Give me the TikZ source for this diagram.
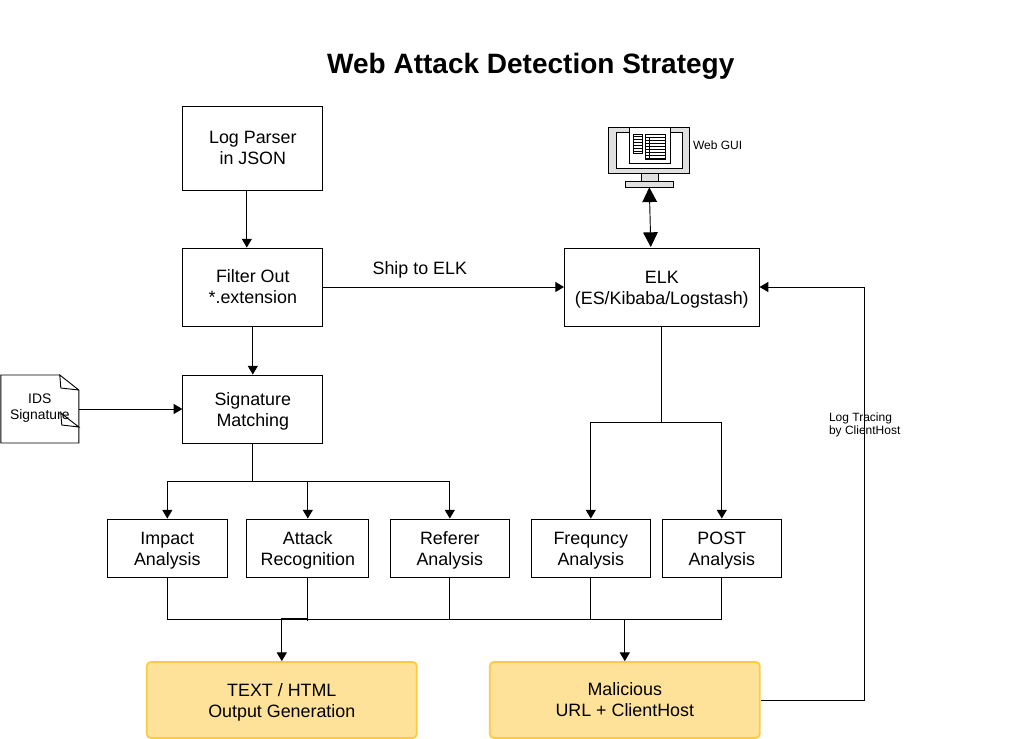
\documentclass[tikz,border=0pt]{standalone}
\usepackage{fontspec}
\setmainfont{Liberation Sans}
\usetikzlibrary{arrows.meta}
\usetikzlibrary{calc}
\definecolor{outfill}{HTML}{FEE299}
\definecolor{outline}{HTML}{FCCB3E}
\newcommand{\lowtext}{\rule{0pt}{13pt}}
\tikzset{
    block/.style={rectangle,draw,line width=0.7pt,align=center,inner sep=0pt,font=\fontsize{13.4}{15.8}\selectfont},
    bigblock/.style={block,minimum width=105pt},
    smallblock/.style={block,minimum width=89pt,minimum height=43.5pt},
    outblock/.style={block,draw=outline,fill=outfill,line width=1.3pt,rounded corners=3pt,minimum width=202.5pt,minimum height=57pt},
    tiny/.style={align=left,inner sep=0pt,font=\fontsize{9}{9.8}\selectfont},
    flow/.style={line width=0.7pt,-{Triangle[length=6.5pt,width=7.5pt]}},
    wire/.style={line width=0.7pt},
    screen/.style={draw,line width=0.6pt}
}
\begin{document}
\begin{tikzpicture}[x=0.75pt,y=-0.75pt]
    \useasboundingbox (0.2,0) rectangle (1025.2,739);
    \draw (531,66) node[font=\fontsize{21}{24}\selectfont\bfseries] (title) {Web Attack Detection Strategy};

    % left column
    \draw (253,148) node[bigblock,minimum height=63pt] (log) {Log Parser\\in JSON};
    \draw (253,287) node[bigblock,minimum height=58.5pt] (filter) {Filter Out\\*.extension};
    \draw (253,409) node[bigblock,minimum height=51pt] (sig) {\lowtext Signature\\Matching};
    \draw (662,287) node[block,minimum width=146pt,minimum height=58.5pt] (elk) {\lowtext ELK\\(ES/Kibaba/Logstash)};

    % analysis row
    \draw (167.5,548) node[smallblock,minimum width=90.5pt] (impact) {\lowtext Impact\\Analysis};
    \draw (308,548) node[smallblock,minimum width=91.5pt] (attack) {\lowtext Attack\\Recognition};
    \draw (450,548) node[smallblock] (referer) {\lowtext Referer\\Analysis};
    \draw (591,548) node[smallblock] (freq) {\lowtext Frequncy\\Analysis};
    \draw (722,548) node[smallblock] (post) {\lowtext POST\\Analysis};

    % output row
    \draw (282,700) node[outblock] (output) {\lowtext TEXT / HTML\\Output Generation};
    \draw (625,700) node[outblock] (malicious) {Malicious\\URL + ClientHost};

    % ids document
    \draw[wire] (60,375) -- (1,375) -- (1,443) -- (79,443) -- (79,390) -- (60,375) -- (61,388) -- (79,390);
    \draw (40,408) node[tiny,align=center,font=\fontsize{10.4}{11.6}\selectfont] (ids) {IDS\\Signature};
    \draw[wire] (61,413) -- (62,425) -- (79,427) -- cycle;
    \coordinate (idsout) at (79,409);

    % web gui monitor
    \draw[screen,fill=black!12] (609,127) rectangle (690,173);
    \draw[screen,fill=white] (617,132) rectangle (683,168);
    \draw[screen,fill=white] (630,127) rectangle (671,163);
    \foreach \row in {136,139,...,151}{
        \draw[line width=0.4pt] (634,\row) -- (643,\row);
    }
    \foreach \row in {137,140,...,158}{
        \draw[line width=0.4pt] (646,\row) -- (666,\row);
    }
    \draw[line width=0.5pt] (634,134) rectangle (643,153);
    \draw[line width=0.5pt] (646,134) rectangle (666,159);
    \draw[line width=0.5pt] (650,137) -- (650,159);
    \draw[screen,fill=black!12] (642,173) rectangle (659,181);
    \draw (649.5,184) node[draw,line width=0.6pt,fill=black!12,inner sep=0pt,minimum width=36.5pt,minimum height=4.5pt] (base) {};
    \draw (693,145) node[tiny,anchor=west] (gui) {Web GUI};
    \draw (420,270) node[font=\fontsize{13.4}{15}\selectfont] (ship) {Ship to ELK};
    \draw (829,425) node[tiny,anchor=west] (tracing) {Log Tracing\\by ClientHost};

    \coordinate (split1) at (253,481);
    \coordinate (split2) at (662,422);
    \coordinate (bus) at (308,619);
    \coordinate (busend) at (308,621);
    \coordinate (busturn) at (307,618);
    \coordinate (busm) at (625,619);
    \coordinate (turn) at (865,700);

    % connectors
    \draw[flow] (log.south -| 247,0) -- (filter.north -| 247,0);
    \draw[flow] (filter) -- (sig);
    \draw[flow] (idsout) -- (sig.west);
    \draw[flow] (filter.east) -- (elk.west);
    \draw[line width=0.7pt,{Triangle[length=11pt,width=11pt]}-{Triangle[length=11pt,width=11pt]}] (base.south) -- (651,247);

    \draw[wire] (sig.south) -- (split1);
    \foreach \block in {impact,attack,referer}{
        \draw[flow] (split1) -| (\block.north);
    }
    \draw[wire] (elk.south) -- (split2);
    \foreach \block in {freq,post}{
        \draw[flow] (split2) -| (\block.north);
    }
    \foreach \block in {impact,referer,freq,post}{
        \draw[wire] (\block.south) |- (bus);
    }
    \draw[wire] (attack.south) -- (busend);
    \draw[flow] (busturn) -| (output.north);
    \draw[flow] (busm) -- (malicious.north);
    \draw[flow] (malicious.east) -- (turn) |- (elk.east);
\end{tikzpicture}
\end{document}
